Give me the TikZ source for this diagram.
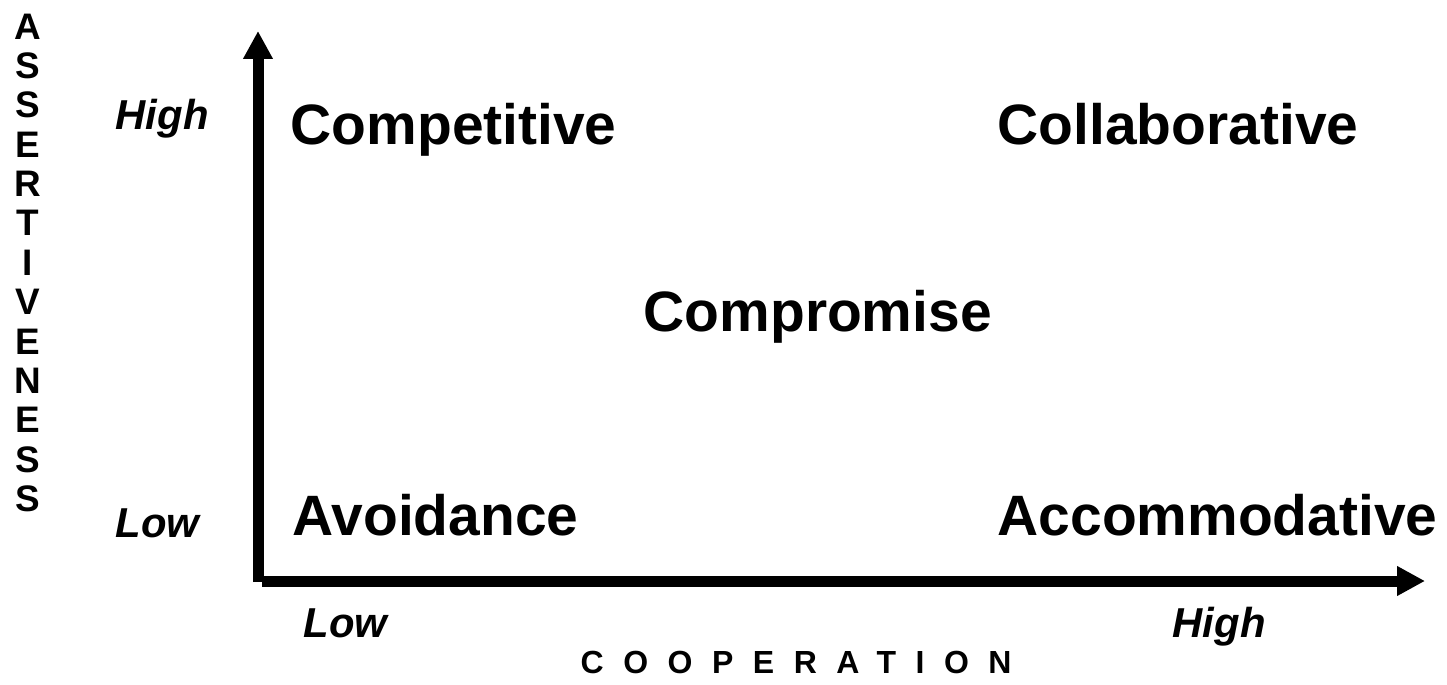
\documentclass[tikz,border=0pt]{standalone}
\usepackage{fontspec}
\setmainfont{Liberation Sans}
\usetikzlibrary{arrows.meta}
\tikzset{
  axis/.style = {line width = 0.11cm, -{Triangle[length = 0.28cm, width = 0.28cm]}},
  style/.style = {inner sep = 0, anchor = base west, font = \bfseries\fontsize{16.2}{18}\selectfont},
  level/.style = {inner sep = 0, anchor = base west, font = \bfseries\itshape\fontsize{11.9}{14}\selectfont},
}
\begin{document}
\begin{tikzpicture}
\useasboundingbox (0,0) rectangle (14.47,6.84);
%
\coordinate (ybot) at (2.58,1.02);
\coordinate (ytip) at (2.58,6.53);
\coordinate (xbot) at (2.62,1.03);
\coordinate (xtip) at (14.25,1.03);
\draw[axis] (ybot) -- (ytip);
\draw[axis] (xbot) -- (xtip);
%
\draw (2.90,5.39) node[style](competitive){Competitive};
\draw (9.97,5.39) node[style](collaborative){Collaborative};
\draw (6.43,3.52) node[style](compromise){Compromise};
\draw (2.92,1.49) node[style](avoidance){Avoidance};
\draw (9.97,1.49) node[style](accommodative){Accommodative};
%
\draw (1.15,5.54) node[level](yhigh){High};
\draw (1.15,1.47) node[level](ylow){Low};
\draw (3.03,0.47) node[level](xlow){Low};
\draw (11.72,0.47) node[level](xhigh){High};
%
\draw (0.28,6.71) node[inner sep = 0, anchor = north, align = center,
  font = \bfseries\fontsize{10.5}{11.2}\selectfont](assert)
  {A\\S\\S\\E\\R\\T\\I\\V\\E\\N\\E\\S\\S};
\draw (5.80,0.11) node[inner sep = 0, anchor = base west,
  font = \bfseries\fontsize{9.1}{11}\selectfont\addfontfeatures{LetterSpace = 61}](coop)
  {COOPERATION};
\end{tikzpicture}
\end{document}
